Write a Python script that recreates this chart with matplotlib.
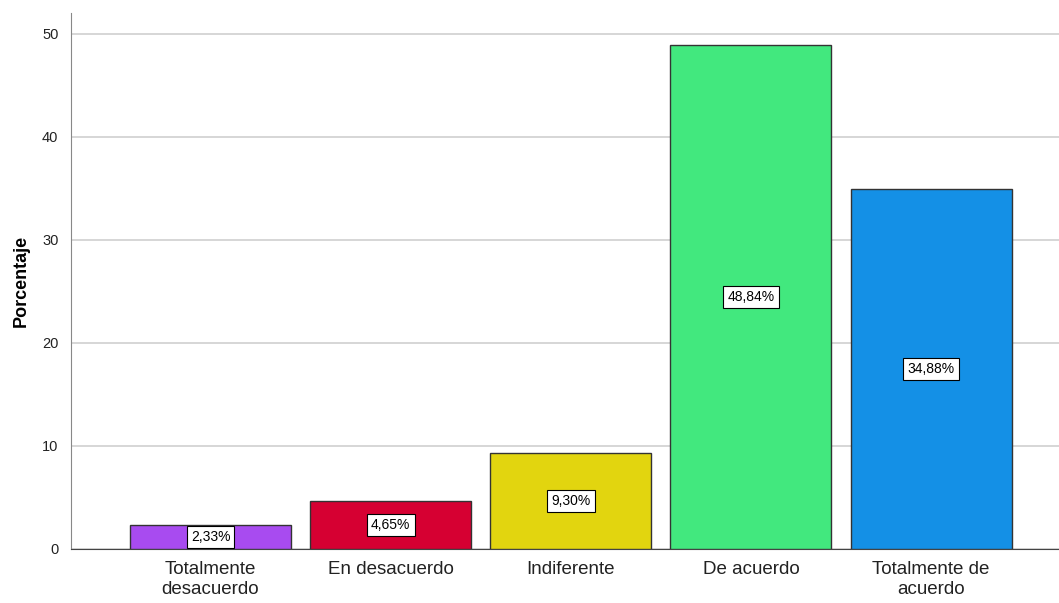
import matplotlib
matplotlib.use("Agg")
import matplotlib.pyplot as plt
import numpy as np

plt.rcParams["font.family"] = ["Liberation Sans", "DejaVu Sans"]

categories = ["Totalmente\ndesacuerdo", "En desacuerdo", "Indiferente", "De acuerdo", "Totalmente de\nacuerdo"]
values = [2.33, 4.65, 9.30, 48.84, 34.88]
colors = ["#A84BF0", "#D60032", "#E2D50F", "#42E87E", "#1490E6"]

fig = plt.figure(figsize=(10.59, 6.03), dpi=100)
ax = fig.add_axes([0.067, 0.0896, 0.933, 0.889])

x = np.arange(len(categories))
ax.bar(x, values, width=0.894, color=colors, edgecolor="#333333", linewidth=1.0, zorder=3)

for xi, v in zip(x, values):
    ax.text(xi, v / 2, f"{v:.2f}%".replace(".", ","), ha="center", va="center",
            fontsize=10, color="black", zorder=4,
            bbox=dict(boxstyle="square,pad=0.3", facecolor="white", edgecolor="black", linewidth=0.8))

ax.set_xlim(-0.775, 4.71)
ax.set_ylim(0, 52)
ax.set_yticks([0, 10, 20, 30, 40, 50])
ax.yaxis.grid(True, color="#d0d0d0", linewidth=1.2, zorder=0)
ax.set_axisbelow(True)
ax.set_xticks(x)
ax.set_xticklabels(categories, fontsize=13.5, color="#222222", linespacing=1.2)
ax.tick_params(axis="x", length=0, pad=9)
ax.tick_params(axis="y", length=0, labelsize=10.5, labelcolor="#222222", pad=9)
ax.set_ylabel("Porcentaje", fontsize=13, fontweight="bold", labelpad=9)

for side in ["top", "right"]:
    ax.spines[side].set_visible(False)
ax.spines["left"].set_color("#888888")
ax.spines["bottom"].set_color("#444444")

fig.savefig("out.png", dpi=100)
